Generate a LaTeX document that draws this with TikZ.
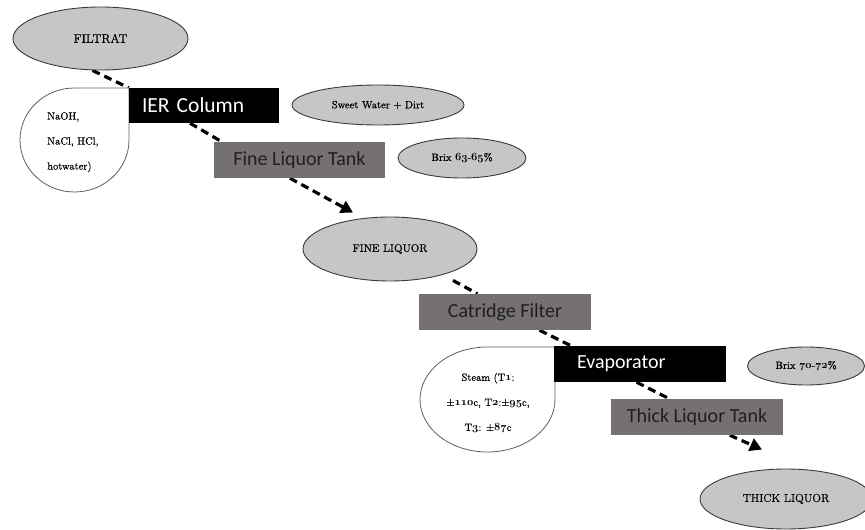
\documentclass[tikz,border=0pt]{standalone}
\usepackage{fontspec}
\newfontfamily\boxfont{Carlito}
\newfontfamily\lblfont[FakeBold=0.5]{Latin Modern Roman}
\usetikzlibrary{shapes.geometric,arrows.meta,calc}

\definecolor{ovalfill}{HTML}{C6C6C6}
\definecolor{ovaledge}{HTML}{3A3A3A}
\definecolor{tankfill}{HTML}{767171}
\definecolor{dropedge}{HTML}{5E5E5E}

% old-style figures taken from the bold math letter font
\newcommand\osn[1]{{\boldmath$\mathnormal{#1}$}}

\pgfdeclarelayer{bg}
\pgfsetlayers{bg,main}

\begin{document}
\begin{tikzpicture}[x=1pt,y=1pt,
  oval/.style={ellipse, draw=ovaledge, line width=0.9pt, fill=ovalfill,
    inner sep=0pt, font=\lblfont\fontsize{10.5}{12}\selectfont},
  darkbox/.style={rectangle, fill=black, text=white, inner ysep=0pt,
    align=left, font=\boxfont\fontsize{20}{22}\selectfont},
  tankbox/.style={rectangle, fill=tankfill, text=black!88, inner sep=0pt,
    font=\boxfont\fontsize{20}{22}\selectfont},
  drop/.style={draw=dropedge, line width=0.8pt, fill=white},
  droptext/.style={inner sep=0pt, font=\lblfont\fontsize{10.5}{25}\selectfont},
  flow/.style={line width=3.2pt, dash pattern=on 8pt off 5pt, black},
  flowtip/.style={flow, -{Triangle[length=12pt,width=13pt]}}
]
\useasboundingbox (0,0) rectangle (865,530);

% ---- ovals ----
\node[oval, minimum width=175pt, minimum height=63pt,
      font=\lblfont\fontsize{12.5}{14}\selectfont] (filtrat) at (100.5,491.5) {FILTRAT};
\node[oval, minimum width=172pt, minimum height=40pt] (sweet) at (378,425) {Sweet Water + Dirt};
\node[oval, minimum width=128pt, minimum height=40pt] (brixA) at (462,372) {Brix \osn{63}-\osn{65}\%};
\node[oval, minimum width=174pt, minimum height=64pt,
      font=\lblfont\fontsize{11}{13}\selectfont] (fineliq) at (390,281) {FINE LIQUOR};
\node[oval, minimum width=117pt, minimum height=38pt] (brixB) at (806,164) {Brix \osn{70}-\osn{72}\%};
\node[oval, minimum width=172pt, minimum height=60pt,
      font=\lblfont\fontsize{11.5}{13}\selectfont] (thickliq) at (786,31) {THICK LIQUOR};

% ---- teardrop callouts ----
\draw[drop] (129,442) -- (74.5,442)
  arc[start angle=90, end angle=360, x radius=54.5, y radius=52] -- cycle;
\node[droptext, align=left, anchor=north west] (chem) at (47,418)
  {NaOH,\\NaCl, HCl,\\hotwater)};

\draw[drop] (555,183) -- (487.5,183)
  arc[start angle=90, end angle=360, x radius=67.5, y radius=52.5] -- cycle;
\node[droptext, align=center] (steam) at (488,127)
  {Steam (T\osn{1}:\\ ±\osn{110}c, T\osn{2}:±\osn{95}c,\\ T\osn{3}: ±\osn{87}c};

% ---- process boxes ----
\node[darkbox, minimum height=35pt, inner xsep=13pt, text width=124pt,
      font=\boxfont\fontsize{21.5}{24}\selectfont] (ier) at (204,424.5) {IER Column};
\node[tankbox, minimum width=171pt, minimum height=36pt] (flt) at (299.5,370) {Fine Liquor Tank};
\node[tankbox, minimum width=172pt, minimum height=36pt] (cf) at (505,218) {Catridge Filter};
\node[darkbox, minimum height=36pt, inner xsep=23pt, text width=126pt] (evap) at (640,166) {Evaporator};
\node[tankbox, minimum width=172pt, minimum height=36pt] (tlt) at (697,113) {Thick Liquor Tank};

% ---- dashed flow ----
\begin{pgfonlayer}{bg}
\draw[flow] ($(filtrat.south)+(-8,0)$) -- (ier.north west);
\draw[flow] ($(ier.south west)!0.407!(ier.south east)$) -- ($(flt.north west)!0.047!(flt.north east)$);
\draw[flowtip] ($(flt.south west)!0.444!(flt.south east)$) -- ($(fineliq.north)+(-37,4)$);
\draw[flow] ($(fineliq.south)+(63,1)$) -- ($(cf.north west)!0.34!(cf.north east)$);
\draw[flow] ($(cf.south west)!0.70!(cf.south east)$) -- ($(evap.north west)!0.10!(evap.north east)$);
\draw[flow] ($(evap.south west)!0.48!(evap.south east)$) -- ($(tlt.north west)!0.34!(tlt.north east)$);
\draw[flowtip] ($(tlt.south west)!0.69!(tlt.south east)$) -- ($(thickliq.north)+(-24,19)$);
\end{pgfonlayer}
\end{tikzpicture}
\end{document}
